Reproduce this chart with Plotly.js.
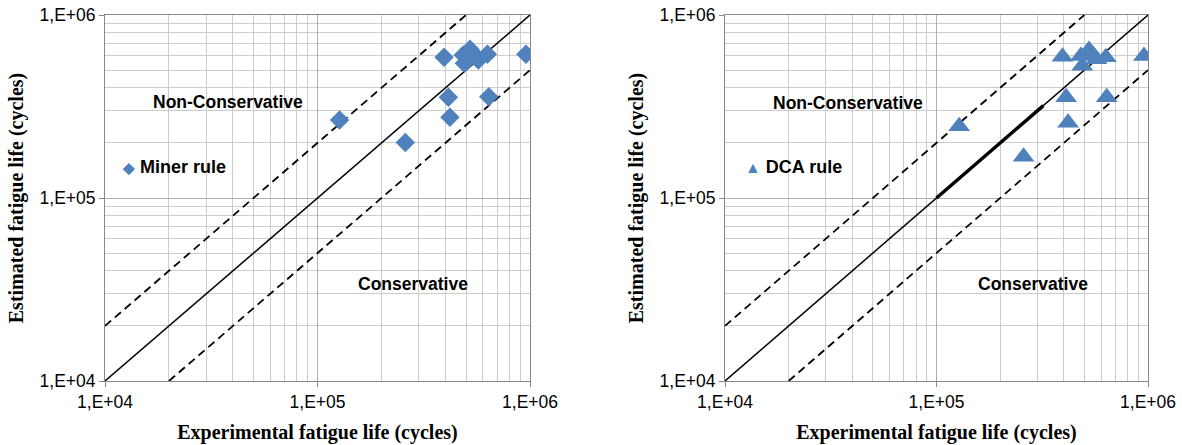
<!DOCTYPE html>
<html><head><meta charset="utf-8">
<script src="https://cdn.plot.ly/plotly-3.0.1.min.js"></script>
<style>html,body{margin:0;padding:0;background:#fff}#chart{width:1182px;height:445px}</style>
</head><body><div id="chart"></div>
<script>
// Miner rule (left panel)
const minerExp = [3.94e5, 4.85e5, 5.22e5, 5.41e5, 4.91e5, 5.71e5, 6.3e5, 9.57e5, 4.13e5, 6.4e5, 4.2e5, 1.27e5, 2.59e5];
const minerEst = [5.87e5, 6.04e5, 6.5e5, 6.17e5, 5.45e5, 5.68e5, 6.1e5, 6.1e5, 3.55e5, 3.58e5, 2.76e5, 2.67e5, 2.01e5];
// DCA rule (right panel)
const dcaExp = [3.94e5, 4.82e5, 5.26e5, 5.51e5, 4.89e5, 5.71e5, 6.32e5, 9.57e5, 4.1e5, 6.38e5, 4.19e5, 1.28e5, 2.58e5];
const dcaEst = [5.91e5, 5.97e5, 6.44e5, 6.05e5, 5.28e5, 5.73e5, 5.87e5, 5.97e5, 3.55e5, 3.55e5, 2.58e5, 2.47e5, 1.68e5];
// reference lines
const diagX = [1e4, 1e6];
const diagY = [1e4, 1e6];
const upperX = [1e4, 5e5];
const upperY = [2e4, 1e6];
const lowerX = [2e4, 1e6];
const lowerY = [1e4, 5e5];
// thick DCA segment along the diagonal
const dcaLineX = [1e5, 3.2e5];
const dcaLineY = [1e5, 3.2e5];
// tick labels
const tickVals = [1e4, 1e5, 1e6];
const tickText = ["1,E+04", "1,E+05", "1,E+06"];

const minorVals = [];
for (let e = 4; e < 6; e++) for (let d = 2; d <= 9; d++) minorVals.push(d * Math.pow(10, e));

const blue = '#4F81BD';
function lineTrace(x, y, xa, ya, dash, w) {
  return {x: x, y: y, xaxis: xa, yaxis: ya, type: 'scatter', mode: 'lines',
    line: {color: '#000', width: w || 1.5, dash: dash || 'solid'}, showlegend: false, hoverinfo: 'skip'};
}
const dashed = '8px,5px';
const traces = [
  lineTrace(diagX, diagY, 'x', 'y'),
  lineTrace(upperX, upperY, 'x', 'y', dashed, 1.8),
  lineTrace(lowerX, lowerY, 'x', 'y', dashed, 1.8),
  {x: minerExp, y: minerEst, xaxis: 'x', yaxis: 'y', type: 'scatter', mode: 'markers', name: 'Miner rule',
   marker: {symbol: 'diamond', size: 15, color: blue}, showlegend: false},
  lineTrace(diagX, diagY, 'x2', 'y2'),
  lineTrace(upperX, upperY, 'x2', 'y2', dashed, 1.8),
  lineTrace(lowerX, lowerY, 'x2', 'y2', dashed, 1.8),
  lineTrace(dcaLineX, dcaLineY, 'x2', 'y2', 'solid', 3.5),
  {x: dcaExp, y: dcaEst, xaxis: 'x2', yaxis: 'y2', type: 'scatter', mode: 'markers', name: 'DCA rule',
   marker: {symbol: 'triangle-up', size: 19, color: blue}, showlegend: false}
];

function xax(domain, anchor) {
  return {type: 'log', domain: domain, anchor: anchor, range: [4, 6],
    tickmode: 'array', tickvals: tickVals, ticktext: tickText,
    tickfont: {family: 'Liberation Sans, Arial', size: 17.5, color: '#000'},
    ticks: 'outside', ticklen: 5, tickcolor: '#888',
    showline: true, linecolor: '#888', linewidth: 1, mirror: true,
    showgrid: true, gridcolor: '#b0b0b0', gridwidth: 1, zeroline: false,
    minor: {tickvals: minorVals, showgrid: true, gridcolor: '#cccccc', gridwidth: 1, ticks: ''},
    title: {text: 'Experimental fatigue life (cycles)', standoff: 13,
      font: {family: 'Liberation Serif, Times New Roman', size: 20, color: '#000', weight: 'bold'}}};
}
function yax(domain, anchor) {
  const a = xax(domain, anchor);
  a.title = {text: 'Estimated fatigue life (cycles)', standoff: 10,
    font: {family: 'Liberation Serif, Times New Roman', size: 20, color: '#000', weight: 'bold'}};
  return a;
}
const yd = [(445 - 381) / 445, (445 - 15) / 445];
const lf = {family: 'Liberation Sans, Arial', size: 17.5, color: '#000', weight: 'bold'};
const lg = {family: 'Liberation Sans, Arial', size: 18, color: '#000', weight: 'bold'};
function ann(text, x, y) {
  return {text: text, x: x, y: y, xref: 'paper', yref: 'paper', showarrow: false, font: lf, xanchor: 'center', yanchor: 'middle'};
}
const layout = {
  width: 1182, height: 445, margin: {l: 0, r: 0, t: 0, b: 0},
  paper_bgcolor: '#fff', plot_bgcolor: '#fff', showlegend: false,
  xaxis: xax([105 / 1182, 530 / 1182], 'y'),
  yaxis: yax(yd, 'x'),
  xaxis2: xax([725 / 1182, 1148 / 1182], 'y2'),
  yaxis2: yax(yd, 'x2'),
  annotations: [
    ann('Non-Conservative', 228 / 1182, (445 - 102) / 445),
    ann('Conservative', 413 / 1182, (445 - 284) / 445),
    ann('Non-Conservative', 848 / 1182, (445 - 103) / 445),
    ann('Conservative', 1033 / 1182, (445 - 284) / 445),
    {text: '<span style="color:#4F81BD;font-size:15px">◆</span> Miner rule', x: 120 / 1182, y: (445 - 167) / 445, xref: 'paper', yref: 'paper',
     showarrow: false, xanchor: 'left', yanchor: 'middle', font: lg},
    {text: '<span style="color:#4F81BD;font-size:16px">▲</span> DCA rule', x: 743 / 1182, y: (445 - 167) / 445, xref: 'paper', yref: 'paper',
     showarrow: false, xanchor: 'left', yanchor: 'middle', font: lg}
  ]
};
Plotly.newPlot('chart', traces, layout, {displayModeBar: false, staticPlot: true});
</script></body></html>
